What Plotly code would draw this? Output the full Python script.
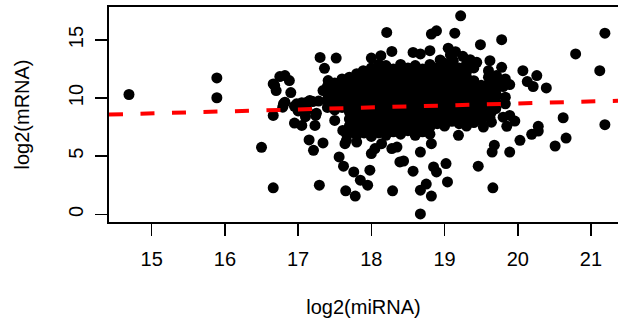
import plotly.graph_objects as go

# ---- data: (log2(miRNA), log2(mRNA)) pairs ----
left_points = [
    (14.69, 10.31), (15.89, 11.74), (15.89, 10.03), (16.50, 5.77), (16.66, 2.28),
    (16.66, 8.51), (16.66, 11.22), (16.70, 10.65), (16.75, 11.85), (16.82, 11.94),
    (16.88, 11.51), (16.90, 10.48), (16.82, 9.65), (16.79, 9.22), (16.95, 7.85),
    (16.98, 9.51), (16.68, 11.08), (16.80, 9.51), (17.05, 7.65), (17.15, 6.40),
    (16.95, 9.30), (17.05, 9.60), (17.12, 9.00), (17.20, 9.70), (17.25, 8.70),
    (17.10, 8.40), (17.00, 8.90), (17.12, 9.65), (17.16, 9.80), (17.28, 9.75),
    (17.40, 9.85), (17.23, 7.65), (17.50, 8.08), (17.61, 7.22), (17.66, 6.37),
    (17.24, 8.51), (17.41, 11.51), (17.34, 10.65), (17.60, 11.65),
]

upper_points = [
    (17.30, 13.50), (17.52, 13.45), (17.36, 12.56), (18.00, 13.45), (18.13, 13.65),
    (18.28, 14.02), (18.21, 15.65), (17.89, 12.36), (18.19, 12.65),
    (19.22, 17.08), (18.82, 15.51), (18.89, 15.79), (19.14, 15.59), (18.57, 13.93),
    (18.67, 13.80), (18.80, 14.08), (19.08, 13.74), (19.49, 14.60), (19.78, 15.03),
    (18.94, 13.28), (19.44, 13.08), (19.62, 13.22), (19.60, 12.36), (19.30, 12.94),
    (18.64, 12.36), (18.48, 12.22), (19.21, 12.08), (19.05, 14.30), (19.15, 14.00),
    (19.25, 13.60), (19.35, 13.30), (19.12, 13.20), (19.40, 12.60), (19.30, 12.30),
]

lower_points = [
    (17.34, 6.14), (17.21, 5.51), (17.56, 4.94), (17.62, 4.14), (17.29, 2.51),
    (17.76, 3.65), (17.85, 2.94), (17.95, 2.51), (17.98, 3.80), (17.65, 2.02),
    (17.78, 1.57), (18.29, 2.02), (17.64, 6.08), (17.66, 6.94), (17.80, 6.22),
    (18.00, 5.23), (18.05, 5.66), (18.28, 5.66), (18.14, 6.08), (18.39, 4.51),
    (18.67, 0.03), (18.67, 2.08), (18.75, 2.60), (18.82, 1.57), (19.04, 2.79),
    (18.85, 4.08), (18.89, 3.65), (19.02, 4.37), (18.44, 4.59), (18.57, 3.71),
    (19.46, 4.14), (19.66, 2.28), (19.65, 5.36), (19.68, 5.95), (18.35, 5.79),
    (18.67, 5.36), (18.82, 6.08), (19.19, 6.80), (19.53, 7.51), (19.62, 8.36),
]

right_points = [
    (21.19, 15.59), (20.79, 13.80), (21.12, 12.36), (21.19, 7.71), (20.07, 12.36),
    (20.26, 11.94), (20.13, 11.42), (20.21, 11.00), (20.39, 10.88), (19.78, 12.65),
    (19.71, 11.94), (19.83, 11.65), (19.89, 11.17), (19.80, 11.00), (19.71, 10.22),
    (19.83, 10.08), (19.83, 9.51), (19.64, 8.79), (19.64, 7.93), (19.80, 8.36),
    (19.89, 8.51), (19.85, 7.57), (19.96, 8.02), (20.62, 8.31), (20.28, 7.57),
    (20.19, 6.88), (20.28, 7.16), (20.03, 6.37), (20.66, 6.56), (20.51, 5.88),
    (19.89, 5.36),
]

core_points = [
    (17.40, 9.2), (17.40, 9.8), (17.40, 10.4), (17.40, 11.0),
    (17.50, 9.0), (17.50, 9.6), (17.50, 10.2), (17.50, 10.8), (17.50, 11.3),
    (17.60, 9.2), (17.60, 9.8), (17.60, 10.4), (17.60, 11.0), (17.60, 11.5),
    (17.70, 7.0), (17.70, 7.6), (17.70, 8.2), (17.70, 8.8), (17.70, 9.4),
    (17.70, 10.0), (17.70, 10.6), (17.70, 11.2), (17.70, 11.8),
    (17.80, 6.8), (17.80, 7.4), (17.80, 8.0), (17.80, 8.6), (17.80, 9.2),
    (17.80, 9.8), (17.80, 10.4), (17.80, 11.0), (17.80, 11.6), (17.80, 12.1),
    (17.90, 7.0), (17.90, 7.6), (17.90, 8.2), (17.90, 8.8), (17.90, 9.4),
    (17.90, 10.0), (17.90, 10.6), (17.90, 11.2), (17.90, 11.8), (17.90, 12.3),
    (18.00, 6.7), (18.00, 7.3), (18.00, 7.9), (18.00, 8.5), (18.00, 9.1),
    (18.00, 9.7), (18.00, 10.3), (18.00, 10.9), (18.00, 11.5), (18.00, 12.1),
    (18.00, 12.6),
    (18.10, 7.0), (18.10, 7.6), (18.10, 8.2), (18.10, 8.8), (18.10, 9.4),
    (18.10, 10.0), (18.10, 10.6), (18.10, 11.2), (18.10, 11.8), (18.10, 12.4),
    (18.10, 12.9),
    (18.20, 6.8), (18.20, 7.4), (18.20, 8.0), (18.20, 8.6), (18.20, 9.2),
    (18.20, 9.8), (18.20, 10.4), (18.20, 11.0), (18.20, 11.6), (18.20, 12.2),
    (18.20, 12.8),
    (18.30, 7.1), (18.30, 7.7), (18.30, 8.3), (18.30, 8.9), (18.30, 9.5),
    (18.30, 10.1), (18.30, 10.7), (18.30, 11.3), (18.30, 11.9), (18.30, 12.5),
    (18.40, 6.9), (18.40, 7.5), (18.40, 8.1), (18.40, 8.7), (18.40, 9.3),
    (18.40, 9.9), (18.40, 10.5), (18.40, 11.1), (18.40, 11.7), (18.40, 12.3),
    (18.40, 12.9),
    (18.50, 7.2), (18.50, 7.8), (18.50, 8.4), (18.50, 9.0), (18.50, 9.6),
    (18.50, 10.2), (18.50, 10.8), (18.50, 11.4), (18.50, 12.0), (18.50, 12.6),
    (18.60, 6.8), (18.60, 7.4), (18.60, 8.0), (18.60, 8.6), (18.60, 9.2),
    (18.60, 9.8), (18.60, 10.4), (18.60, 11.0), (18.60, 11.6), (18.60, 12.2),
    (18.60, 12.8),
    (18.70, 7.1), (18.70, 7.7), (18.70, 8.3), (18.70, 8.9), (18.70, 9.5),
    (18.70, 10.1), (18.70, 10.7), (18.70, 11.3), (18.70, 11.9), (18.70, 12.5),
    (18.80, 6.9), (18.80, 7.5), (18.80, 8.1), (18.80, 8.7), (18.80, 9.3),
    (18.80, 9.9), (18.80, 10.5), (18.80, 11.1), (18.80, 11.7), (18.80, 12.3),
    (18.80, 12.9),
    (18.90, 7.8), (18.90, 8.4), (18.90, 9.0), (18.90, 9.6), (18.90, 10.2),
    (18.90, 10.8), (18.90, 11.4), (18.90, 12.0), (18.90, 12.6),
    (19.00, 7.6), (19.00, 8.2), (19.00, 8.8), (19.00, 9.4), (19.00, 10.0),
    (19.00, 10.6), (19.00, 11.2), (19.00, 11.8), (19.00, 12.4), (19.00, 13.0),
    (19.10, 8.0), (19.10, 8.6), (19.10, 9.2), (19.10, 9.8), (19.10, 10.4),
    (19.10, 11.0), (19.10, 11.6), (19.10, 12.2), (19.10, 12.8),
    (19.20, 7.8), (19.20, 8.4), (19.20, 9.0), (19.20, 9.6), (19.20, 10.2),
    (19.20, 10.8), (19.20, 11.4), (19.20, 12.0), (19.20, 12.6),
    (19.30, 7.6), (19.30, 8.2), (19.30, 8.8), (19.30, 9.4), (19.30, 10.0),
    (19.30, 10.6), (19.30, 11.2), (19.30, 11.8),
    (19.40, 7.9), (19.40, 8.5), (19.40, 9.1), (19.40, 9.7), (19.40, 10.3),
    (19.40, 10.9), (19.40, 11.5),
    (19.50, 8.1), (19.50, 8.7), (19.50, 9.3), (19.50, 9.9), (19.50, 10.5),
    (19.50, 11.1),
    (19.60, 8.8), (19.60, 9.4), (19.60, 10.0), (19.60, 10.6), (19.60, 11.2),
    (19.60, 11.8),
    (19.70, 9.1), (19.70, 9.7), (19.70, 10.4), (19.70, 10.9), (19.70, 11.5),
]

# regression line: log2(mRNA) = a + b * log2(miRNA)
fit_intercept = 6.12
fit_slope = 0.171

x_ticks = [15, 16, 17, 18, 19, 20, 21]
y_ticks = [0, 5, 10, 15]
x_range = [14.417, 21.369]
y_range = [-0.66, 17.84]

all_points = left_points + upper_points + lower_points + right_points + core_points
log2_mirna = [p[0] for p in all_points]
log2_mrna = [p[1] for p in all_points]

line_x = x_range
line_y = [fit_intercept + fit_slope * v for v in line_x]

FONT = "Liberation Sans, Arial, Helvetica, sans-serif"

fig = go.Figure()
fig.add_trace(go.Scatter(
    x=log2_mirna, y=log2_mrna, mode="markers",
    marker=dict(size=11, color="black", line=dict(width=0)),
    hoverinfo="skip", showlegend=False, cliponaxis=False,
))
fig.add_trace(go.Scatter(
    x=line_x, y=line_y, mode="lines",
    line=dict(color="#ff0000", width=4, dash="14px,17.5px"),
    hoverinfo="skip", showlegend=False,
))

fig.update_layout(
    width=618, height=324,
    margin=dict(l=109, r=0, t=7, b=102, pad=0, autoexpand=False),
    paper_bgcolor="white", plot_bgcolor="white",
    font=dict(family=FONT, size=20, color="black"),
    hovermode=False,
    xaxis=dict(
        range=x_range, tickvals=x_ticks, ticktext=[str(v) for v in x_ticks],
        showline=True, mirror=True, linecolor="black", linewidth=1.8,
        ticks="outside", ticklen=12, tickwidth=1.5, tickcolor="black",
        showgrid=False, zeroline=False, ticklabelstandoff=6, automargin=False,
        title=dict(text="log2(miRNA)", standoff=31, font=dict(size=20)),
    ),
    yaxis=dict(
        range=y_range, tickvals=y_ticks, ticktext=[str(v) for v in y_ticks],
        showline=True, mirror=False, linecolor="black", linewidth=1.8,
        ticks="outside", ticklen=12, tickwidth=1.5, tickcolor="black",
        showgrid=False, zeroline=False, tickangle=-90, ticklabelstandoff=4,
        automargin=False,
        title=dict(text="log2(mRNA)", standoff=30, font=dict(size=20)),
    ),
)

fig.write_html(
    "out.html",
    config={"displayModeBar": False, "staticPlot": True},
    post_script="document.body.style.margin='0px';document.body.style.overflow='hidden';",
)
